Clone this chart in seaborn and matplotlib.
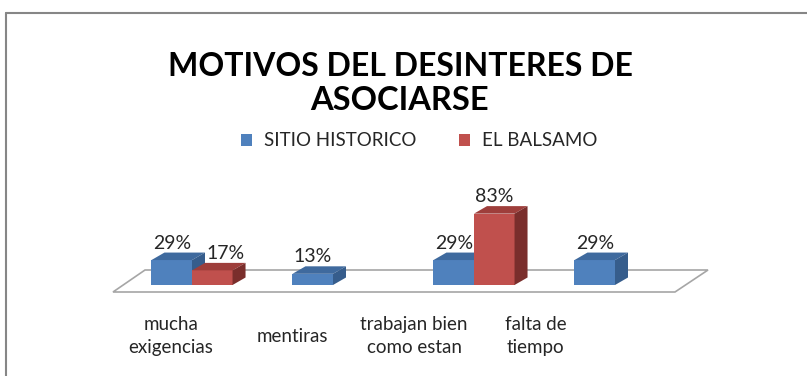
import matplotlib
matplotlib.use("Agg")
import matplotlib.pyplot as plt
import seaborn as sns
import pandas as pd
from matplotlib.patches import Polygon, Patch
from matplotlib.lines import Line2D

# Chart data
categories = ["mucha\nexigencias", "mentiras", "trabajan bien\ncomo estan", "falta de\ntiempo"]
series = ["SITIO HISTORICO", "EL BALSAMO"]
sitio_historico = [29, 13, 29, 29]
el_balsamo = [17, 0, 83, 0]

title_lines = ["MOTIVOS DEL DESINTERES DE", "ASOCIARSE"]

df = pd.DataFrame({
    "motivo": categories * 2,
    "serie": [series[0]] * len(categories) + [series[1]] * len(categories),
    "pct": sitio_historico + el_balsamo,
})

# Face colours: front, top, side
front = {series[0]: "#4F81BD", series[1]: "#C0504D"}
top = {series[0]: "#3F6A9E", series[1]: "#9E3E3B"}
side = {series[0]: "#365D8C", series[1]: "#7A2E2C"}

sns.set_theme(style="white")
plt.rcParams["font.family"] = ["Lato", "DejaVu Sans"]

W, H, DPI = 807, 376, 100
fig = plt.figure(figsize=(W / DPI, H / DPI), dpi=DPI)
ax = fig.add_axes([0, 0, 1, 1])

# pixel geometry of the plotting space
x0_px, step_px = 192.0, 141.0        # first category centre, category spacing
base_px, per_pct = 285.0, 0.86       # baseline row, pixels per percent


def px2x(px):
    return (px - x0_px) / step_px


def py2y(py):
    return (base_px - py) / per_pct


# floor of the 3-D plot area
floor = Polygon([(px2x(113), py2y(292)), (px2x(675), py2y(292)),
                 (px2x(708), py2y(270)), (px2x(145), py2y(270))],
                closed=True, facecolor="white", edgecolor="#A6A6A6",
                linewidth=1.2, zorder=1)
ax.add_patch(floor)

sns.barplot(data=df, x="motivo", y="pct", hue="serie", order=categories,
            hue_order=series, palette=[front[s] for s in series],
            saturation=1, width=0.575, errorbar=None, linewidth=0,
            legend=False, ax=ax, zorder=3)
ax.set_xlim(-x0_px / step_px, (W - x0_px) / step_px)
ax.set_ylim(-(H - base_px) / per_pct, base_px / per_pct)
ax.axis("off")

# depth of the extruded columns
dx = 13 / step_px
dy = 7.5 / per_pct

bars = []
for i, s in enumerate(series):
    vals = sitio_historico if i == 0 else el_balsamo
    for j in range(len(categories)):
        p = ax.patches[1 + i * len(categories) + j]
        bars.append((p, s, j, vals[j]))

# small sideways shift for a label that would crowd its neighbour
label_nudge = {(series[1], 0): 13 / step_px}

bars.sort(key=lambda b: b[0].get_x())
for k, (p, s, j, v) in enumerate(bars):
    if v <= 0:
        p.set_visible(False)
        continue
    z = 3 + k
    p.set_zorder(z)
    x, w, h = p.get_x(), p.get_width(), p.get_height()
    ax.add_patch(Polygon([(x, h), (x + w, h), (x + w + dx, h + dy), (x + dx, h + dy)],
                         closed=True, facecolor=top[s], edgecolor="none", zorder=z))
    ax.add_patch(Polygon([(x + w, 0), (x + w + dx, dy), (x + w + dx, h + dy), (x + w, h)],
                         closed=True, facecolor=side[s], edgecolor="none", zorder=z))
    nudge = label_nudge.get((s, j), 0)
    ax.text(x + w / 2 + nudge, h + dy + 9.5 / per_pct, f"{v}%", ha="center", va="center",
            fontsize=14, color="#262626", zorder=20)

# category labels along the front of the floor
for i, c in enumerate(categories):
    ax.text(px2x(171) + i * 0.862, py2y(336), c, ha="center", va="center",
            multialignment="center", fontsize=13.5, color="#262626", linespacing=1.45)

# title
fig.text(400 / W, 1 - 67 / H, title_lines[0], ha="center", va="center",
         fontsize=23, fontweight="bold", color="black")
fig.text(400 / W, 1 - 100 / H, title_lines[1], ha="center", va="center",
         fontsize=23.5, fontweight="bold", color="black")

# legend
handles = [Patch(facecolor=front[s], edgecolor="none") for s in series]
fig.legend(handles, series, loc="center", bbox_to_anchor=(419 / W, 1 - 141 / H),
           ncol=2, frameon=False, fontsize=13.5, handlelength=0.6, handleheight=0.6,
           handletextpad=0.6, columnspacing=2.3, labelcolor="#262626")

# chart frame
fig.add_artist(Line2D([6 / W, 1], [1 - 12.5 / H, 1 - 12.5 / H], color="#868686", linewidth=1.5))
fig.add_artist(Line2D([6 / W, 6 / W], [0, 1 - 12.5 / H], color="#868686", linewidth=1.5))

fig.savefig("out.png", dpi=DPI, facecolor="white")
